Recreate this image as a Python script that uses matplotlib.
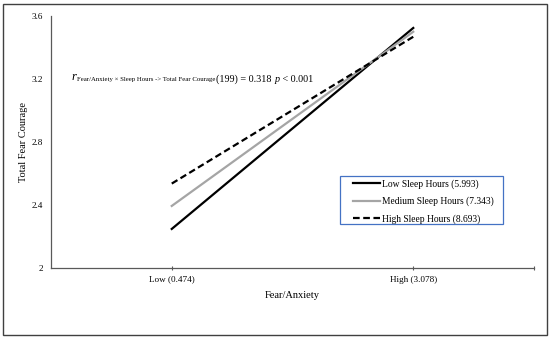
import matplotlib.pyplot as plt
from matplotlib.patches import Rectangle

plt.rcParams['font.family'] = ['Liberation Serif', 'DejaVu Serif']

categories = ['Low (0.474)', 'High (3.078)']
low_sleep = [2.248, 3.524]
medium_sleep = [2.394, 3.500]
high_sleep = [2.536, 3.468]
series_labels = ['Low Sleep Hours (5.993)', 'Medium Sleep Hours (7.343)', 'High Sleep Hours (8.693)']
yticks = [2, 2.4, 2.8, 3.2, 3.6]
ytick_labels = ['2', '2.4', '2.8', '3.2', '3.6']

fig = plt.figure(figsize=(5.5, 3.38), dpi=100)
ax = fig.add_axes([51/550, 1 - 268/338, 483/550, 252/338])

x = range(len(categories))
ax.plot(x, low_sleep, color='black', lw=1.6, label=series_labels[0])
ax.plot(x, medium_sleep, color='#A5A5A5', lw=1.6, label=series_labels[1])
ax.plot(x, high_sleep, color='black', lw=1.6, ls=(0, (3, 1.6)), label=series_labels[2])

ax.set_xlim(-0.5, 1.5)
ax.set_ylim(2, 3.6)
ax.set_xticks([0, 1])
ax.set_xticklabels(categories)
ax.set_xticks([1.5], minor=True)
ax.set_yticks(yticks)
ax.set_yticklabels(ytick_labels)
ax.tick_params(axis='x', which='both', direction='inout', length=3, width=0.8,
               color='#595959', labelsize=6.6, pad=4)
ax.tick_params(axis='y', length=0, labelsize=6.6, pad=6)

for s in ['top', 'right']:
    ax.spines[s].set_visible(False)
for s in ['left', 'bottom']:
    ax.spines[s].set_color('#595959')
    ax.spines[s].set_linewidth(0.9)

ax.set_ylabel('Total Fear Courage', fontsize=7.5)
ax.yaxis.set_label_coords(-0.048, 0.5)
ax.set_xlabel('Fear/Anxiety', fontsize=7.5)
ax.xaxis.set_label_coords(0.499, -0.09)

# correlation note, written piece by piece: each piece starts where the last one ends
pieces = [
    ('r', 9, 'italic', 80),
    ('Fear/Anxiety \u00d7 Sleep Hours -> Total Fear Courage', 4.9, 'normal', 81.5),
    ('(199) = 0.318 ', 7.3, 'normal', 81.5),
    ('p', 7.3, 'italic', 81.5),
    (' < 0.001', 7.3, 'normal', 81.5),
]
fig.canvas.draw()
renderer = fig.canvas.get_renderer()
xpos = 72
for txt, size, style, base in pieces:
    t = fig.text(xpos/550, 1 - base/338, txt, fontsize=size, style=style,
                 ha='left', va='baseline')
    xpos = t.get_window_extent(renderer).x1 + 0.5

leg = ax.legend(loc='upper left', bbox_to_anchor=(353/550, 1 - 179/338),
                bbox_transform=fig.transFigure, fontsize=6.85, frameon=False,
                handlelength=2.85, handletextpad=0.2,
                borderpad=0, labelspacing=0.85, borderaxespad=0)

fig.patches.append(Rectangle((340/550, 1 - 224/338), 163/550, 48/338, transform=fig.transFigure,
                             fill=False, edgecolor='#4472C4', lw=0.9))
fig.patches.append(Rectangle((3/550, 3/338), 544/550, 331/338, transform=fig.transFigure,
                             fill=False, edgecolor='#404040', lw=1.0))

fig.savefig('out.png', dpi=100)
